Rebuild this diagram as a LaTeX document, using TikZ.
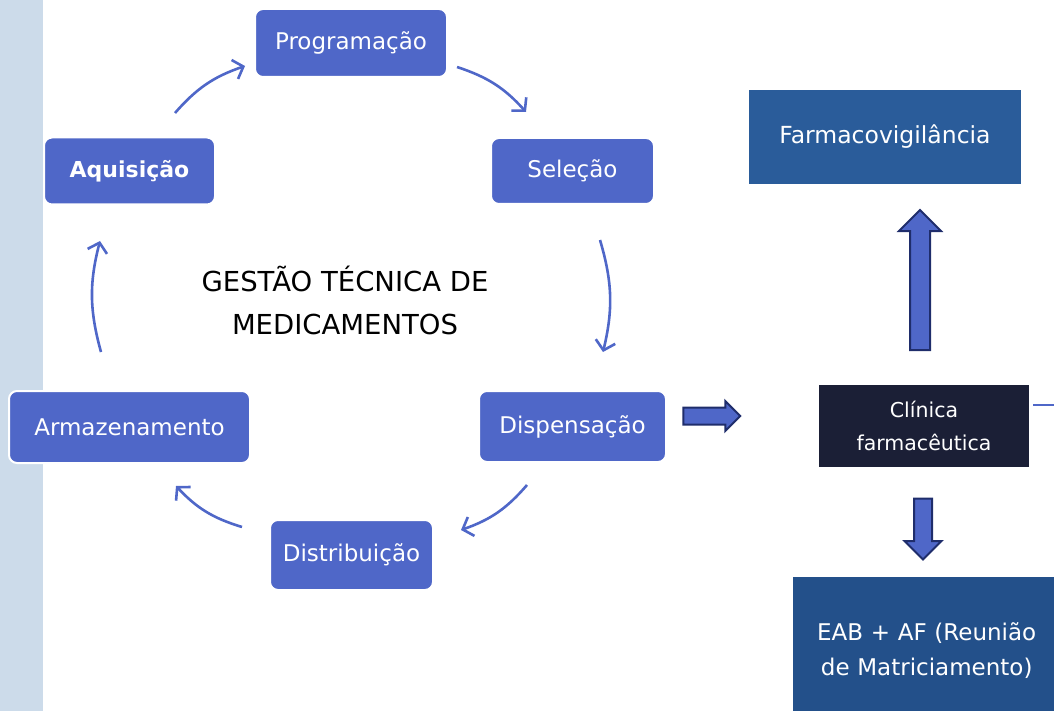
\documentclass[tikz,border=0pt]{standalone}
\usepackage{fontspec}
\setmainfont{DejaVu Sans}
\usetikzlibrary{arrows.meta,shapes.arrows}
\definecolor{boxblue}{HTML}{4F67C8}
\definecolor{strip}{HTML}{CCDBEA}
\definecolor{midblue}{HTML}{2A5C9A}
\definecolor{deepblue}{HTML}{23508A}
\definecolor{navy}{HTML}{1B1F36}
\definecolor{edgeblue}{HTML}{1F2D6B}
\tikzset{
  cyc/.style={draw=white, line width=2pt, fill=boxblue, rounded corners=8pt, text=white, font=\fontsize{23}{27}\selectfont, inner sep=0pt},
  sq/.style={fill=#1, text=white, inner sep=0pt, align=center},
  curv/.style={draw=boxblue, line width=2.6pt, -{Straight Barb[length=9pt,width=20pt,line width=2.6pt]}, bend left=#1},
  blk/.style={single arrow, draw=edgeblue, line width=2pt, fill=boxblue, inner sep=#1, single arrow head indent=0pt}
}
\begin{document}
\begin{tikzpicture}[x=1pt,y=-1pt]
\useasboundingbox (0,0) rectangle (1054,711);
\fill[strip] (0,0) rectangle (43,711);
% cycle boxes
\node[cyc, minimum width=192pt, minimum height=68pt] (prog) at (351,43) {Programação};
\node[cyc, minimum width=163pt, minimum height=66pt] (sel) at (572.5,171) {Seleção};
\node[cyc, minimum width=171pt, minimum height=67pt, font=\fontsize{22}{27}\selectfont\bfseries] (aq) at (129.5,171) {Aquisição};
\node[cyc, minimum width=187pt, minimum height=71pt] (disp) at (572.5,426.5) {Dispensação};
\node[cyc, minimum width=241pt, minimum height=72pt] (arm) at (129.5,427) {Armazenamento};
\node[cyc, minimum width=163pt, minimum height=70pt] (dist) at (351.5,555) {Distribuição};
\node[align=center, font=\fontsize{27.5}{43}\selectfont] (title) at (345,300) {GESTÃO TÉCNICA DE\\MEDICAMENTOS};
% right side boxes
\node[sq=midblue, minimum width=272pt, minimum height=94pt, font=\fontsize{23.5}{28}\selectfont] (farm) at (885,137) {Farmacovigilância};
\node[sq=navy, minimum width=210pt, minimum height=82pt, font=\fontsize{20.5}{33}\selectfont] (clin) at (924,426) {Clínica\\farmacêutica};
\node[sq=deepblue, minimum width=267pt, minimum height=146pt, font=\fontsize{23}{35}\selectfont, anchor=north west, text width=267pt] (eab) at (793,577) {EAB + AF (Reunião\\de Matriciamento)};
% curved arrows
\coordinate (a1s) at (175,113); \coordinate (a1e) at (245,66);
\coordinate (a2s) at (457,67);  \coordinate (a2e) at (526,112);
\coordinate (a3s) at (600,240); \coordinate (a3e) at (603,352);
\coordinate (a4s) at (527,485); \coordinate (a4e) at (461,530);
\coordinate (a5s) at (242,527); \coordinate (a5e) at (176,486);
\coordinate (a6s) at (101,352); \coordinate (a6e) at (100,241);
\draw[curv=15] (a1s) to (a1e);
\draw[curv=15] (a2s) to (a2e);
\draw[curv=15] (a3s) to (a3e);
\draw[curv=15] (a4s) to (a4e);
\draw[curv=15] (a5s) to (a5e);
\draw[curv=15] (a6s) to (a6e);
% block arrows
\node[blk=7.5pt, minimum height=57pt, single arrow head extend=6.5pt] (rarr) at (707.5,416) {};
\node[blk=9pt, minimum height=140pt, single arrow head extend=11pt, shape border rotate=90] (uarr) at (920,285) {};
\node[blk=8pt, minimum height=61pt, single arrow head extend=9.5pt, shape border rotate=270] (darr) at (923,524.5) {};
% stub line at right of Clínica
\coordinate (stub) at (1054,405);
\draw[boxblue, line width=2pt] (clin.east |- stub) ++(4,0) -- (stub);
\end{tikzpicture}
\end{document}
